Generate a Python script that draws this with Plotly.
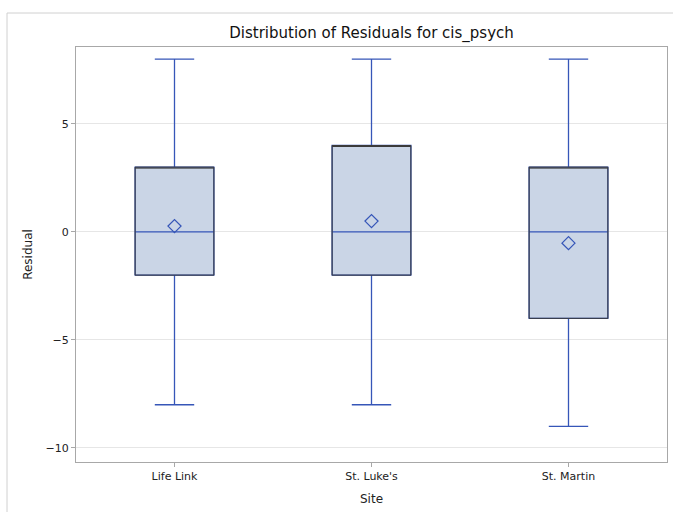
import plotly.graph_objects as go

# Residual summary by site
sites = ["Life Link", "St. Luke's", "St. Martin"]
mins = [-8, -8, -9]
q1s = [-2, -2, -4]
medians = [0, 0, 0]
q3s = [3, 4, 3]
maxs = [8, 8, 8]
means = [0.27, 0.5, -0.52]

y_ticks = [-10, -5, 0, 5]

FILL = "#CAD5E6"
BLUE = "#3656B8"
EDGE = "#3A3A3A"
FONT = "DejaVu Sans"

fig = go.Figure()

# Whiskers, caps, median and fill in blue
fig.add_trace(go.Box(
    x=sites, q1=q1s, median=medians, q3=q3s,
    lowerfence=mins, upperfence=maxs,
    fillcolor=FILL, line=dict(color=BLUE, width=1.3),
    width=0.4, whiskerwidth=0.5, boxpoints=False,
    hoverinfo="skip", showlegend=False,
))

# Dark outline of the interquartile box
fig.add_trace(go.Box(
    x=sites, q1=q1s, median=q3s, q3=q3s,
    lowerfence=q1s, upperfence=q3s,
    fillcolor="rgba(0,0,0,0)", line=dict(color=EDGE, width=1),
    width=0.4, whiskerwidth=0, boxpoints=False,
    hoverinfo="skip", showlegend=False,
))

# Means
fig.add_trace(go.Scatter(
    x=sites, y=means, mode="markers",
    marker=dict(symbol="diamond-open", size=10, color=BLUE, line=dict(width=1.3, color=BLUE)),
    showlegend=False, hoverinfo="skip",
))

L, R, T, B = 76, 6, 47, 50
W, H = 673, 512
pw, ph = W - L - R, H - T - B

fig.update_layout(
    width=W, height=H,
    margin=dict(l=L, r=R, t=T, b=B),
    paper_bgcolor="white", plot_bgcolor="white",
    boxmode="overlay",
    font=dict(family=FONT, size=11, color="#222"),
    title=dict(text="Distribution of Residuals for cis_psych",
               x=0.5 * (L + W - R) / W, xanchor="center",
               y=1 - 33 / H, yanchor="middle",
               font=dict(family=FONT, size=15, color="#111")),
    xaxis=dict(
        title=dict(text="Site", font=dict(size=12), standoff=12),
        range=[-0.5, 2.5], showgrid=False, zeroline=False,
        showline=True, mirror=True, linecolor="#A8A8A8", linewidth=1,
        ticks="outside", ticklen=4, tickcolor="#A8A8A8",
        tickfont=dict(size=11),
    ),
    yaxis=dict(
        title=dict(text="Residual", font=dict(size=12), standoff=10),
        range=[-10.65, 8.56], tickvals=y_ticks,
        ticktext=["\u221210", "\u22125", "0", "5"],
        showgrid=True, gridcolor="#E6E6E6", zeroline=False,
        showline=True, mirror=True, linecolor="#A8A8A8", linewidth=1,
        ticks="outside", ticklen=4, tickcolor="#A8A8A8",
        tickfont=dict(size=11),
    ),
    shapes=[dict(
        type="rect", xref="paper", yref="paper",
        x0=(7 - L) / pw, x1=(W + 10 - L) / pw,
        y0=-(B + 20) / ph, y1=(H - B - 13) / ph,
        line=dict(color="#D0D0D0", width=1), fillcolor="rgba(0,0,0,0)",
        layer="below",
    )],
)

fig.write_html("out.html")
